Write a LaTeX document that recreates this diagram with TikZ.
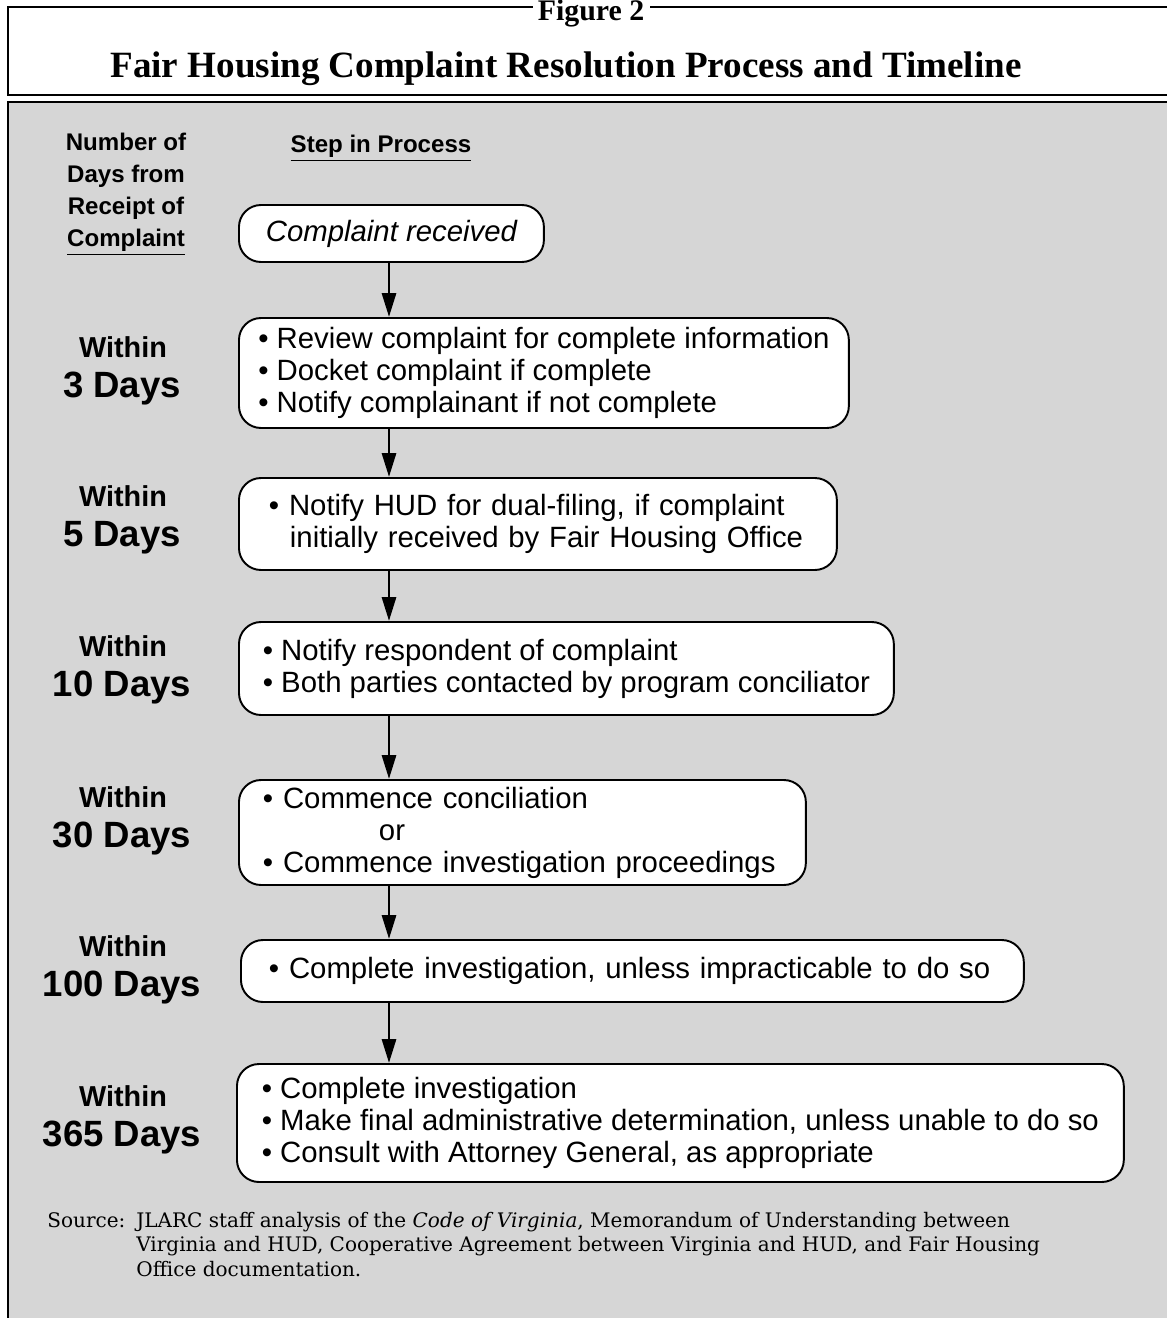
\documentclass[tikz,border=0pt]{standalone}
\usepackage{fontspec}
\setmainfont{Liberation Serif}
\setsansfont{Liberation Sans}
\newfontfamily\sourcefont{DejaVu Serif}
\usepackage{xcolor}
\usepackage{tikz}
\usetikzlibrary{arrows.meta}
\definecolor{panelgray}{HTML}{D6D6D6}
\tikzset{
  stepbox/.style={draw, line width=1.1pt, fill=white, rounded corners=0.44cm, anchor=west, inner xsep=4pt, align=left, font=\sffamily\fontsize{16.7}{18.2}\selectfont},
  headlabel/.style={font=\sffamily\bfseries\fontsize{13.7}{18.2}\selectfont, align=center},
  withinlabel/.style={font=\sffamily\bfseries\fontsize{16.4}{19}\selectfont, anchor=base},
  dayslabel/.style={font=\sffamily\bfseries\fontsize{20.8}{24}\selectfont, anchor=base},
  flow/.style={line width=1.7pt, -{Triangle[length=0.48cm, width=0.28cm]}},
  frame/.style={line width=1.5pt}
}

\begin{document}
\begin{tikzpicture}[x=0.02cm, y=-0.02cm]%
\useasboundingbox (0,0) rectangle (1166,1318);%
\fill[panelgray] (8,102) rectangle (1172,1324);%
\draw[frame, line width=1.7pt] (8,1324) -- (8,102) -- (1172,102);%
\draw[frame] (1172,95) -- (8,95) -- (8,7) -- (1172,7);%
\node[fill=white, inner xsep=3pt, inner ysep=1pt, font=\bfseries\fontsize{17}{20}\selectfont, anchor=base] (fig) at (591,21) {Figure 2};%
\node[font=\bfseries\fontsize{21.1}{25}\selectfont, anchor=base] (title) at (566,78) {Fair Housing Complaint Resolution Process and Timeline};%
\node[headlabel] (numdays) at (126,194) {Number of\\Days from\\Receipt of\\\underline{Complaint}};%
\node[headlabel, anchor=base] (stephead) at (381,153) {\underline{Step in Process}};%
\node[stepbox, minimum width=6.1cm, minimum height=1.14cm, align=center] (b1) at (238,233.5) {\itshape Complaint received};%
\node[stepbox, minimum width=12.2cm, minimum height=2.2cm] (b2) at (238,373) {\textbullet\ Review complaint for complete information\\\textbullet\ Docket complaint if complete\\\textbullet\ Notify complainant if not complete};%
\node[stepbox, minimum width=11.96cm, minimum height=1.84cm, text width=10.76cm] (b3) at (238,524) {\textbullet\ Notify HUD for dual-filing, if complaint\\\hspace*{0.42cm}initially received by Fair Housing Office};%
\node[stepbox, minimum width=13.1cm, minimum height=1.86cm] (b4) at (238,668.5) {\textbullet\ Notify respondent of complaint\\\textbullet\ Both parties contacted by program conciliator};%
\node[stepbox, minimum width=11.34cm, minimum height=2.1cm, text width=10.38cm] (b5) at (238,832.5) {\textbullet\ Commence conciliation\\\hspace*{2.32cm}or\\\textbullet\ Commence investigation proceedings};%
\node[stepbox, minimum width=15.66cm, minimum height=1.24cm, text width=14.54cm] (b6) at (240,971) {\textbullet\ Complete investigation, unless impracticable to do so};%
\node[stepbox, minimum width=17.74cm, minimum height=2.36cm] (b7) at (236,1123) {\textbullet\ Complete investigation\\\textbullet\ Make final administrative determination, unless unable to do so\\\textbullet\ Consult with Attorney General, as appropriate};%
\coordinate (spine) at (389,0);%
\foreach \a/\b in {b1/b2, b2/b3, b3/b4, b4/b5, b5/b6, b6/b7}%
  \draw[flow] (spine |- \a.south) -- (spine |- \b.north);%
\foreach \n/\y [count=\i] in {3/357, 5/506, 10/656, 30/807, 100/956, 365/1106} {%
  \node[withinlabel] (w\i) at (123,\y) {Within};%
  \node[dayslabel] (d\i) at (122,{\y+40}) {\n~Days};%
}%
\node[font=\sourcefont\fontsize{11.4}{13.9}\selectfont, anchor=north west, align=left, inner sep=0pt] (srctext) at (136,1210) {\strut JLARC staff analysis of the \textit{Code of Virginia}, Memorandum of Understanding between\\\strut Virginia and HUD, Cooperative Agreement between Virginia and HUD, and Fair Housing\\\strut Office documentation.};%
\node[font=\sourcefont\fontsize{11.4}{13.9}\selectfont, anchor=north west, inner sep=0pt] (srclabel) at (47,1210) {\strut Source:};%
\end{tikzpicture}
\end{document}
